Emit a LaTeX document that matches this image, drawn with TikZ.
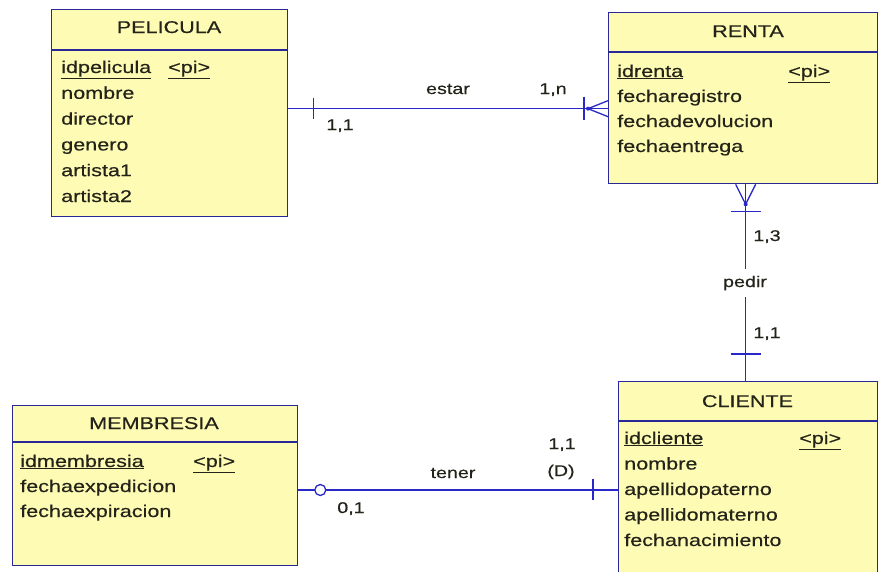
\documentclass[tikz,border=0pt]{standalone}
\usepackage{fontspec}
\setmainfont{Liberation Sans}[FakeStretch=1.27,FakeBold=0.4]
\definecolor{entfill}{RGB}{254,252,180}
\definecolor{entdraw}{RGB}{40,40,150}
\definecolor{connc}{RGB}{40,40,200}
\definecolor{txt}{RGB}{35,35,25}
\tikzset{
  entity/.style={draw=entdraw, fill=entfill, line width=1.3pt, rectangle, inner sep=0pt, anchor=north west},
  sepline/.style={draw=entdraw, line width=1.2pt},
  title/.style={font=\fontsize{17}{20}\selectfont, text=txt, anchor=base, inner sep=0pt},
  attr/.style={font=\fontsize{17}{20}\selectfont, text=txt, anchor=base west, inner sep=0pt},
  lbl/.style={font=\fontsize{15.5}{19}\selectfont, text=txt, anchor=base, inner sep=0pt},
  conn/.style={draw=connc, line width=1.3pt},
  tick/.style={draw=connc, line width=1.3pt},
}
\begin{document}
\begin{tikzpicture}[x=1pt,y=-1pt]
\useasboundingbox (0,0) rectangle (878,571);
\clip (0,0) rectangle (878,571);
\fill[white] (0,0) rectangle (878,571);

% ---------- PELICULA ----------
\node[entity, minimum width=236pt, minimum height=207pt] (pel) at (51,9) {};
\draw[sepline] ([yshift=-41pt]pel.north west) -- ([yshift=-41pt]pel.north east);
\node[title] (pelt) at (169,33) {PELICULA};
\node[attr] (pela1) at (61,73) {\underline{idpelicula}};
\node[attr] (pelpk) at (168,73) {\underline{<pi>}};
\node[attr] (pela2) at (61,98.8) {nombre};
\node[attr] (pela3) at (61,124.6) {director};
\node[attr] (pela4) at (61,150.4) {genero};
\node[attr] (pela5) at (61,176.2) {artista1};
\node[attr] (pela6) at (61,202) {artista2};

% ---------- RENTA ----------
\node[entity, minimum width=269pt, minimum height=171pt] (ren) at (608,12) {};
\draw[sepline] ([yshift=-40pt]ren.north west) -- ([yshift=-40pt]ren.north east);
\node[title] (rent) at (748,37) {RENTA};
\node[attr] (rena1) at (617,77) {\underline{idrenta}};
\node[attr] (renpk) at (788,77) {\underline{<pi>}};
\node[attr] (rena2) at (617,102) {fecharegistro};
\node[attr] (rena3) at (617,127) {fechadevolucion};
\node[attr] (rena4) at (617,152) {fechaentrega};

% ---------- CLIENTE ----------
\node[entity, minimum width=259pt, minimum height=200pt] (cli) at (618,381) {};
\draw[sepline] ([yshift=-40pt]cli.north west) -- ([yshift=-40pt]cli.north east);
\node[title] (clit) at (747.5,407) {CLIENTE};
\node[attr] (clia1) at (624,444) {\underline{idcliente}};
\node[attr] (clipk) at (799,444) {\underline{<pi>}};
\node[attr] (clia2) at (624,469.5) {nombre};
\node[attr] (clia3) at (624,495) {apellidopaterno};
\node[attr] (clia4) at (624,520.5) {apellidomaterno};
\node[attr] (clia5) at (624,546) {fechanacimiento};

% ---------- MEMBRESIA ----------
\node[entity, minimum width=285pt, minimum height=160pt] (mem) at (12,405) {};
\draw[sepline] ([yshift=-37pt]mem.north west) -- ([yshift=-37pt]mem.north east);
\node[title] (memt) at (154,429) {MEMBRESIA};
\node[attr] (mema1) at (20,467) {\underline{idmembresia}};
\node[attr] (mempk) at (193,467) {\underline{<pi>}};
\node[attr] (mema2) at (20,492) {fechaexpedicion};
\node[attr] (mema3) at (20,517) {fechaexpiracion};

% ---------- estar (PELICULA - RENTA) ----------
\coordinate (es1) at ([yshift=4.5pt]pel.east);
\coordinate (es2) at (es1 -| ren.west);
\draw[conn] (es1) -- (es2);
\draw[tick] ([xshift=25pt,yshift=11pt]es1) -- ([xshift=25pt,yshift=-10pt]es1);
\coordinate (esa) at ([xshift=-20pt]es2);
\draw[tick] ([xshift=-24pt,yshift=12pt]es2) -- ([xshift=-24pt,yshift=-11pt]es2);
\draw[conn] (esa) -- ([yshift=8pt]es2);
\draw[conn] (esa) -- ([yshift=-8pt]es2);
\fill[connc] (esa) circle (2pt);
\node[lbl] (estar) at (448,94) {estar};
\node[lbl] (es1n) at (553,94) {1,n};
\node[lbl] (es11) at (340,130) {1,1};

% ---------- pedir (RENTA - CLIENTE) ----------
\coordinate (pe1) at ([xshift=2.5pt]ren.south);
\coordinate (pe2) at (pe1 |- cli.north);
\draw[conn] (pe1) -- (pe2);
\coordinate (pea) at ([yshift=-20pt]pe1);
\draw[conn] (pea) -- ([xshift=-10pt]pe1);
\draw[conn] (pea) -- ([xshift=10pt]pe1);
\fill[connc] (pea) circle (2pt);
\draw[tick] ([xshift=-15pt,yshift=-27pt]pe1) -- ([xshift=15pt,yshift=-27pt]pe1);
\draw[tick] ([xshift=-15pt,yshift=27pt]pe2) -- ([xshift=15pt,yshift=27pt]pe2);
\node[lbl, anchor=center, fill=white, inner xsep=2pt, inner ysep=7pt] (pedir) at (745,283) {pedir};
\node[lbl] (pe13) at (767,241) {1,3};
\node[lbl] (pe11) at (767,338) {1,1};

% ---------- tener (MEMBRESIA - CLIENTE) ----------
\coordinate (te1) at (mem.east |- 0,490);
\coordinate (te2) at (te1 -| cli.west);
\draw[conn] (te1) -- (te2);
\draw[conn, fill=white] ([xshift=22pt]te1) circle (5.5pt);
\draw[tick] ([xshift=-25pt,yshift=11pt]te2) -- ([xshift=-25pt,yshift=-10pt]te2);
\node[lbl] (tener) at (453,478) {tener};
\node[lbl] (te11) at (562,449) {1,1};
\node[lbl] (teD) at (561,476) {(D)};
\node[lbl] (te01) at (351,513) {0,1};
\end{tikzpicture}
\end{document}
